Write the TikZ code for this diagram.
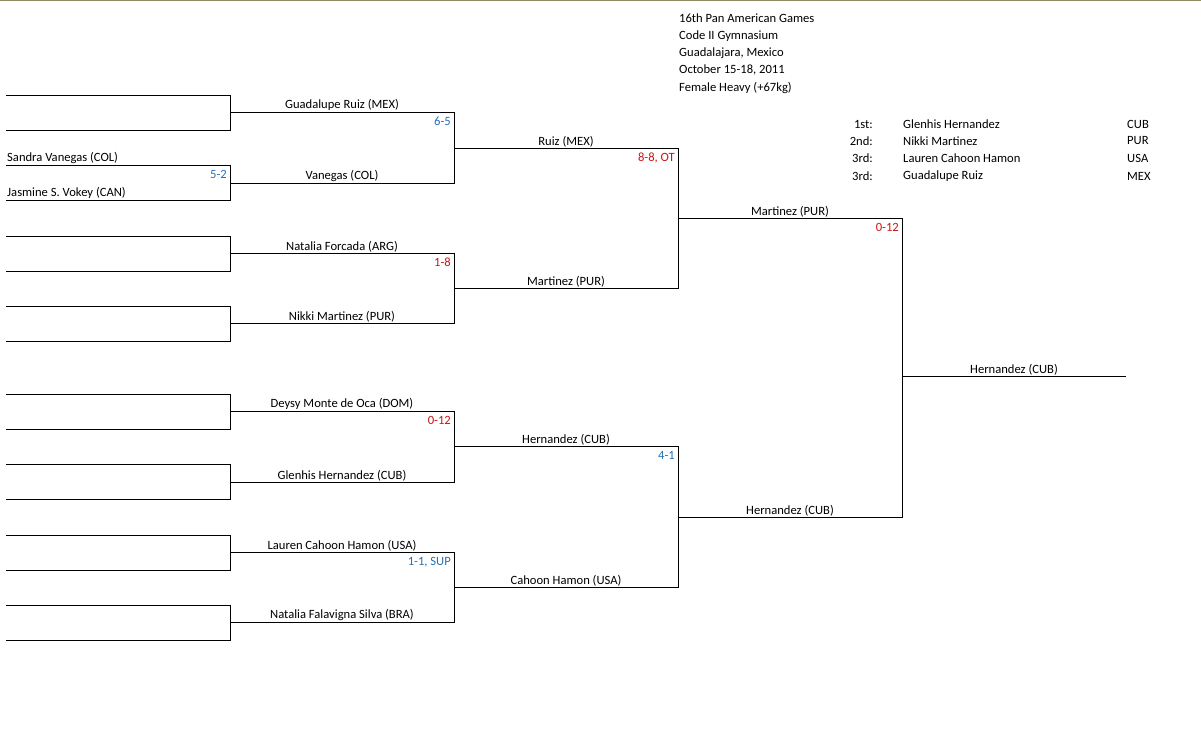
\documentclass[tikz,border=0pt]{standalone}
\usepackage{fontspec}
\setmainfont{Carlito}
\begin{document}
\begin{tikzpicture}[x=1pt,y=-1pt,
  ln/.style={line width=0.8pt,black},
  lbl/.style={anchor=south,inner sep=1pt,font=\fontsize{12.6}{14}\selectfont},
  sc/.style={anchor=north east,inner sep=2pt,yshift=-3pt,font=\fontsize{12.6}{14}\selectfont},
  txt/.style={anchor=west,inner sep=0pt,font=\fontsize{12.6}{14}\selectfont}]
\definecolor{sblue}{RGB}{40,110,180}
\definecolor{sred}{RGB}{200,20,20}
\useasboundingbox (0,0) rectangle (1201,738);
\draw[line width=0.8pt,gray!70!olive] (0,0.5) -- (1201,0.5);
% round 1
\foreach \a/\b in {95/130,165/200,236/271,306/341,394/429,464/499,535/570,605/640}{
  \draw[ln] (6,\a) -- (230,\a) -- (230,\b) -- (6,\b);}
% round 2
\foreach \a/\b in {112/183,253/323,411/482,552/622}{
  \draw[ln] (230,\a) -- (454,\a) -- (454,\b) -- (230,\b);}
\foreach \a/\b in {148/288,446/587}{
  \draw[ln] (454,\a) -- (678,\a) -- (678,\b) -- (454,\b);}
\draw[ln] (678,218) -- (902,218) -- (902,517) -- (678,517);
\draw[ln] (902,376) -- (1126,376);
% names round1
\node[txt,anchor=south west,inner sep=1pt] (s1) at (6,165) {Sandra Vanegas (COL)};
\node[txt,anchor=south west,inner sep=1pt] (s2) at (6,200) {Jasmine S. Vokey (CAN)};
% round 2 names
\foreach \y/\t in {112/Guadalupe Ruiz (MEX),183/Vanegas (COL),253/Natalia Forcada (ARG),323/Nikki Martinez (PUR),411/Deysy Monte de Oca (DOM),482/Glenhis Hernandez (CUB),552/Lauren Cahoon Hamon (USA),622/Natalia Falavigna Silva (BRA)}
  \node[lbl] at (342,\y) {\t};
\foreach \y/\t in {148/Ruiz (MEX),288/Martinez (PUR),446/Hernandez (CUB),587/Cahoon Hamon (USA)}
  \node[lbl] at (566,\y) {\t};
\foreach \y/\t in {218/Martinez (PUR),517/Hernandez (CUB)}
  \node[lbl] at (790,\y) {\t};
\node[lbl] at (1014,376) {Hernandez (CUB)};
% scores
\node[sc,text=sblue] at (229,165) {5-2};
\node[sc,text=sblue] at (453,112) {6-5};
\node[sc,text=sred] at (453,253) {1-8};
\node[sc,text=sred] at (453,411) {0-12};
\node[sc,text=sblue] at (453,552) {1-1, SUP};
\node[sc,text=sred] at (677,148) {8-8, OT};
\node[sc,text=sblue] at (677,446) {4-1};
\node[sc,text=sred] at (901,218) {0-12};
% info
\foreach \y/\t in {18/16th Pan American Games,36/Code II Gymnasium,53/{Guadalajara, Mexico},70/{October 15-18, 2011},88/Female Heavy (+67kg)}
  \node[txt] at (679,\y) {\t};
\foreach \y/\p/\n/\c in {124/1st:/Glenhis Hernandez/CUB,141/2nd:/Nikki Martinez/PUR,158/3rd:/Lauren Cahoon Hamon/USA,176/3rd:/Guadalupe Ruiz/MEX}{
  \node[txt,anchor=east] at (873,\y) {\p};
  \node[txt] at (903,\y) {\n};
  \node[txt] at (1127,\y) {\c};}
\end{tikzpicture}
\end{document}
